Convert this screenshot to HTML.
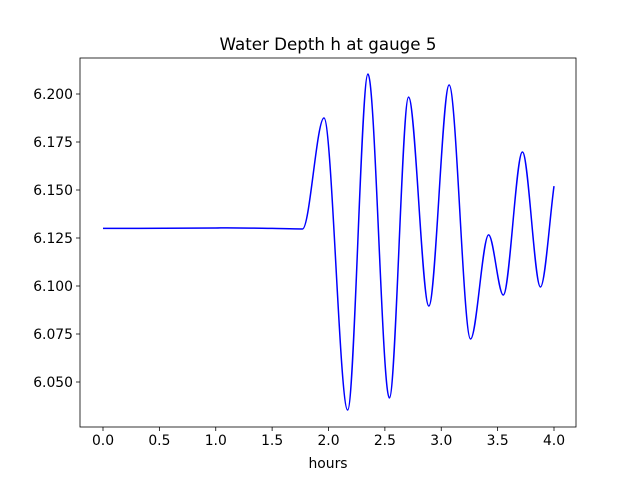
<!DOCTYPE html>
<html><head><meta charset="utf-8"><style>
body{margin:0;background:#fff;}
svg{display:block;font-family:"DejaVu Sans","Liberation Sans",sans-serif;}
</style></head><body>
<svg id="chart" width="640" height="480" xmlns="http://www.w3.org/2000/svg">
<rect width="640" height="480" fill="#fff"/>
<text x="328" y="50" text-anchor="middle" font-size="16.7">Water Depth h at gauge 5</text>
<g id="axes"></g>
<text x="328" y="468" text-anchor="middle" font-size="13.9">hours</text>
</svg>
<script>
const xs=[0,1.0,1.1,1.5,1.77,1.96,2.17,2.35,2.54,2.71,2.89,3.07,3.26,3.42,3.55,3.72,3.88,4.0];
const ys=[6.130,6.1302,6.1303,6.1300,6.1297,6.1875,6.0354,6.2104,6.0417,6.1984,6.0896,6.2047,6.0724,6.1266,6.0953,6.1698,6.0995,6.152];
const xTicks=["0.0","0.5","1.0","1.5","2.0","2.5","3.0","3.5","4.0"];
const yTicks=["6.050","6.075","6.100","6.125","6.150","6.175","6.200"];
const L=80,R=576,T=58,B=427;
const sx=v=>103+(v-0)*(554-103)/4;
const sy=v=>94+(6.2-v)*(382-94)/0.15;
const NS="http://www.w3.org/2000/svg";
const g=document.getElementById('axes');
function mk(t,a){const e=document.createElementNS(NS,t);for(const k in a)e.setAttribute(k,a[k]);g.appendChild(e);return e;}
xTicks.forEach(t=>{const x=sx(parseFloat(t));
const l=mk('line',{x1:x,x2:x,y1:B,y2:B+4,stroke:'#000','stroke-width':0.8});


const tx=mk('text',{x:x,y:B+18,'text-anchor':'middle','font-size':13.9});tx.textContent=t;

});
yTicks.forEach(t=>{const y=sy(parseFloat(t));
const l=mk('line',{x1:L-4,x2:L,y1:y,y2:y,stroke:'#000','stroke-width':0.8});


const tx=mk('text',{x:L-7,y:y+5,'text-anchor':'end','font-size':13.9});tx.textContent=t;

});
// monotone cubic
const P=xs.map((x,i)=>[sx(x),sy(ys[i])]);const n=P.length;
const d=[],m=[];for(let i=0;i<n-1;i++)d.push((P[i+1][1]-P[i][1])/(P[i+1][0]-P[i][0]));
m[0]=d[0];m[n-1]=d[n-2];
for(let i=1;i<n-1;i++){m[i]=(d[i-1]*d[i]<=0)?0:(d[i-1]+d[i])/2;}
for(let i=0;i<n-1;i++){if(d[i]===0){m[i]=m[i+1]=0;continue;}const a=m[i]/d[i],b=m[i+1]/d[i],s=a*a+b*b;if(s>9){const t=3/Math.sqrt(s);m[i]=t*a*d[i];m[i+1]=t*b*d[i];}}
let p=`M${P[0][0]},${P[0][1]}`;
for(let i=0;i<n-1;i++){const h=(P[i+1][0]-P[i][0])/3;p+=` C${P[i][0]+h},${P[i][1]+m[i]*h} ${P[i+1][0]-h},${P[i+1][1]-m[i+1]*h} ${P[i+1][0]},${P[i+1][1]}`;}
const line=mk('path',{d:p,fill:'none',stroke:'#0000ff','stroke-width':1.5});


const fr=mk('rect',{x:L,y:T,width:R-L,height:B-T,fill:'none',stroke:'#000','stroke-width':0.8});


</script>
</body></html>
